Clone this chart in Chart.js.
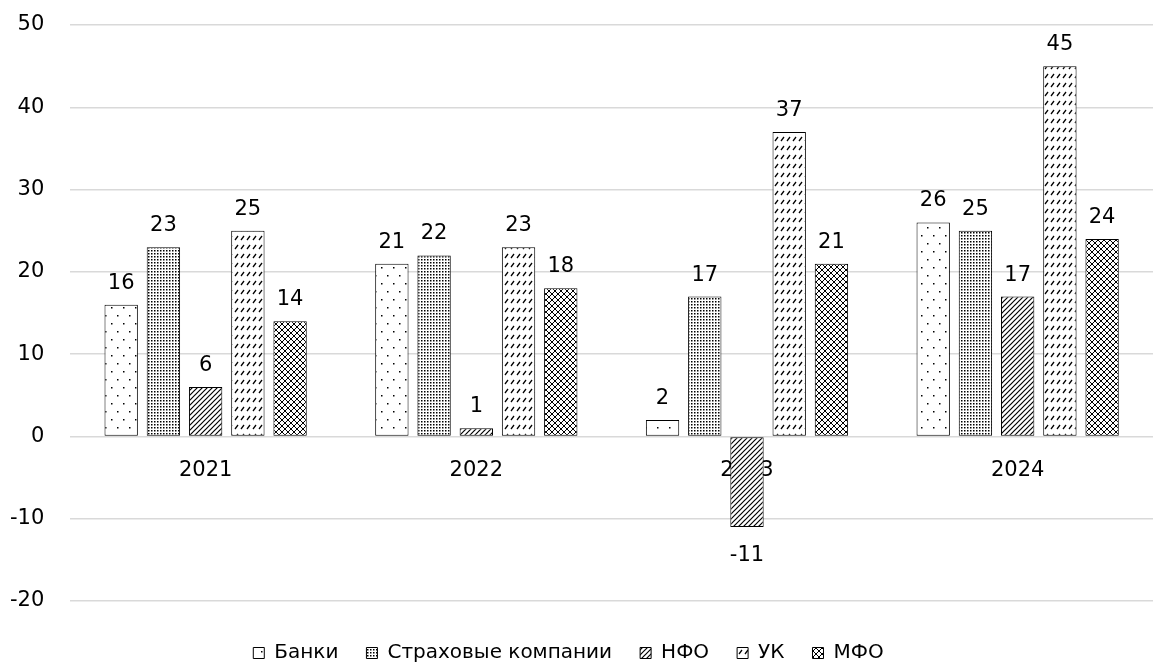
<!DOCTYPE html>
<html>
<head>
<meta charset="utf-8">
<script src="https://cdn.jsdelivr.net/npm/chart.js@4"></script>
<style>
  html, body { margin: 0; padding: 0; background: #fff; }
  #wrap { width: 1153px; height: 664px; }
</style>
</head>
<body>
<div id="wrap"><canvas id="c"></canvas></div>
<script>
// данные с графика
const years = ['2021', '2022', '2023', '2024'];
const banks = [16, 21, 2, 26];
const insurers = [23, 22, 17, 25];
const npf = [6, 1, -11, 17];
const uk = [25, 23, 37, 45];
const mfo = [14, 18, 21, 24];
const seriesNames = ['Банки', 'Страховые компании', 'НФО', 'УК', 'МФО'];
const yTicks = [-20, -10, 0, 10, 20, 30, 40, 50];

const numFont = '"DejaVu Sans", sans-serif';

// штриховки
function makePattern(w, h, draw) {
  const c = document.createElement('canvas');
  c.width = w; c.height = h;
  const g = c.getContext('2d');
  g.fillStyle = '#fff';
  g.fillRect(0, 0, w, h);
  g.fillStyle = '#000';
  g.strokeStyle = '#000';
  draw(g);
  return document.getElementById('c').getContext('2d').createPattern(c, 'repeat');
}

const patBanks = makePattern(12, 16, g => {
  g.fillRect(3, 3, 1.5, 1.5);
  g.fillRect(9, 11, 1.5, 1.5);
});
const patIns = makePattern(3, 3, g => {
  g.fillRect(1, 1, 1.5, 1.5);
});
const patNpf = makePattern(5, 5, g => {
  g.lineWidth = 1.2;
  g.beginPath();
  g.moveTo(0, 5); g.lineTo(5, 0);
  g.moveTo(-1, 1); g.lineTo(1, -1);
  g.moveTo(4, 6); g.lineTo(6, 4);
  g.stroke();
});
const patUk = makePattern(6, 9, g => {
  g.lineWidth = 1.3;
  g.beginPath();
  g.moveTo(1, 6); g.lineTo(4, 2);
  g.stroke();
});
const patMfo = makePattern(6, 6, g => {
  for (let i = 0; i < 6; i++) {
    g.fillRect(i, i, 1, 1);
    g.fillRect(5 - i, i, 1, 1);
  }
});

const fills = [patBanks, patIns, patNpf, patUk, patMfo];
const values = [banks, insurers, npf, uk, mfo];

// подписи значений над столбцами
const valueLabels = {
  id: 'valueLabels',
  afterDatasetsDraw(chart) {
    const ctx = chart.ctx;
    ctx.save();
    ctx.font = '21px ' + numFont;
    ctx.fillStyle = '#000';
    ctx.textAlign = 'center';
    ctx.textBaseline = 'alphabetic';
    chart.data.datasets.forEach((ds, i) => {
      chart.getDatasetMeta(i).data.forEach((bar, j) => {
        const v = ds.data[j];
        if (v >= 0) {
          ctx.fillText(v, bar.x, bar.y - 16);
        } else {
          ctx.fillText(v, bar.x, bar.y + 34);
        }
      });
    });
    ctx.restore();
  }
};

new Chart(document.getElementById('c'), {
  type: 'bar',
  data: {
    labels: years,
    datasets: seriesNames.map((name, i) => ({
      label: name,
      data: values[i],
      backgroundColor: fills[i],
      borderColor: '#000',
      borderWidth: 1,
      borderSkipped: false,
      barPercentage: 0.79,
      categoryPercentage: 0.78
    }))
  },
  options: {
    responsive: true,
    maintainAspectRatio: false,
    animation: false,
    layout: { padding: { left: -16, right: 0, top: 25, bottom: -9 } },
    plugins: {
      legend: {
        position: 'bottom',
        title: { display: true, text: ' ', font: { size: 10 }, padding: { top: 0, bottom: 2 } },
        labels: {
          color: '#000',
          font: { family: numFont, size: 20 },
          boxWidth: 11,
          boxHeight: 11,
          padding: 28
        }
      },
      tooltip: { enabled: false }
    },
    scales: {
      x: {
        position: { y: 0 },
        grid: { display: false },
        border: { display: false },
        ticks: {
          color: '#000',
          font: { family: numFont, size: 21 },
          padding: 14
        }
      },
      y: {
        min: -20,
        max: 50,
        afterBuildTicks: axis => { axis.ticks = yTicks.map(v => ({ value: v })); },
        afterFit: s => { s.paddingTop = 0; s.paddingBottom = 0; },
        grid: { color: '#d9d9d9', lineWidth: 1.5, drawTicks: false },
        border: { display: false },
        ticks: {
          color: '#000',
          font: { family: numFont, size: 21 },
          padding: 26
        }
      }
    }
  },
  plugins: [valueLabels]
});
</script>
</body>
</html>
